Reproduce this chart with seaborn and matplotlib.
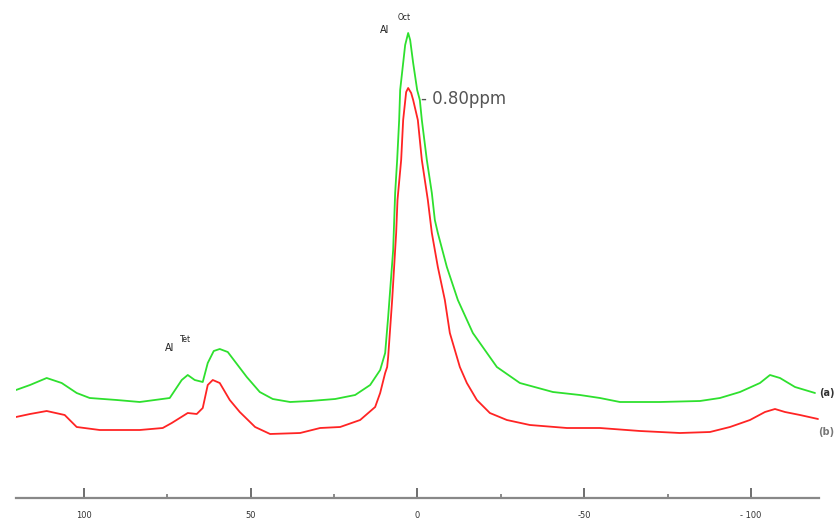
import matplotlib
matplotlib.use("Agg")
import matplotlib.pyplot as plt
import seaborn as sns
import pandas as pd

# chemical shift (ppm) and intensity (arbitrary units)
ppm_a = [120.4, 116.2, 111.2, 106.7, 102.2, 98.3, 90.2, 83.3, 74.3, 70.7, 68.9, 66.8,
         64.4, 62.9, 61.1, 59.3, 56.9, 51.2, 47.3, 43.4, 38.2, 32.2, 24.7, 18.7, 14.2,
         11.2, 9.7, 8.8, 7.3, 6.7, 6.1, 5.5, 5.2, 4.3, 3.7, 2.8, 2.2, 1.3, 0.1, -0.7,
         -1.3, -2.8, -4.3, -5.2, -6.1, -8.8, -12.1, -16.6, -23.8, -30.7, -40.6, -48.7,
         -54.7, -60.7, -72.7, -84.7, -90.7, -96.7, -102.7, -105.7, -108.7, -113.2, -119.2]
int_a = [108, 113, 120, 115, 105, 100, 98, 96, 100, 118, 123, 118,
         116, 135, 147, 149, 146, 121, 106, 99, 96, 97, 99, 103, 113,
         128, 145, 181, 248, 305, 338, 378, 408, 435, 453, 465, 458, 435, 408, 398,
         378, 338, 305, 278, 265, 231, 198, 165, 131, 115, 106, 103,
         100, 96, 96, 97, 100, 106, 115, 123, 120, 111, 105]

ppm_b = [120.4, 116.2, 111.2, 105.8, 102.2, 95.3, 83.3, 76.4, 73.7, 68.9, 66.2, 64.4,
         62.9, 61.4, 59.3, 56.3, 53.3, 48.7, 44.2, 35.2, 29.2, 23.2, 17.2, 12.7, 11.2,
         9.7, 9.1, 8.8, 7.6, 6.4, 6.0, 4.9, 4.3, 3.4, 2.8, 1.9, 1.3, -0.1, -1.3, -3.1,
         -4.3, -6.1, -8.2, -9.7, -12.7, -14.8, -17.8, -21.7, -26.8, -33.7, -44.8, -54.7,
         -66.7, -78.7, -87.7, -93.7, -99.7, -104.2, -107.2, -110.2, -114.7, -120.1]
int_b = [81, 84, 87, 83, 71, 68, 68, 70, 75, 85, 84, 90,
         113, 118, 115, 98, 86, 71, 64, 65, 70, 71, 78, 91, 105,
         125, 131, 141, 198, 265, 298, 338, 378, 406, 410, 405, 398, 378, 338, 298,
         265, 231, 198, 165, 131, 115, 98, 85, 78, 73, 70, 70,
         67, 65, 66, 71, 78, 86, 89, 86, 83, 79]

tick_values = [100, 50, 0, -50, -100]
tick_labels = ["100", "50", "0", "-50", "- 100"]
minor_values = [75, 25, -25, -75]

df = pd.concat([
    pd.DataFrame({"ppm": ppm_a, "intensity": int_a, "sample": "(a)"}),
    pd.DataFrame({"ppm": ppm_b, "intensity": int_b, "sample": "(b)"}),
])

sns.set_style("white")
fig = plt.figure(figsize=(8.36, 5.18), dpi=100)
ax = fig.add_axes([16 / 836, 20 / 518, 803 / 836, 498 / 518])

sns.lineplot(data=df, x="ppm", y="intensity", hue="sample",
             palette={"(a)": "#2ee02e", "(b)": "#ff2424"},
             estimator=None, sort=False, linewidth=1.3, legend=False, ax=ax)

ax.set_xlim(120.4, -120.4)
ax.set_ylim(0, 498)
ax.set_xlabel("")
ax.set_ylabel("")
ax.set_yticks([])
for s in ["left", "right", "top"]:
    ax.spines[s].set_visible(False)
ax.spines["bottom"].set_color("#888888")
ax.spines["bottom"].set_linewidth(1.6)

ax.set_xticks(tick_values)
ax.set_xticklabels(tick_labels, fontsize=6, color="#333333")
ax.set_xticks(minor_values, minor=True)
ax.tick_params(axis="x", which="major", direction="in", length=7, width=1.2,
               color="#555555", pad=9, bottom=True)
ax.tick_params(axis="x", which="minor", direction="in", length=3, width=1.2,
               color="#777777", bottom=True)

# annotations
ax.text(9.8, 468, "Al", fontsize=7, color="#222222", ha="center", va="center")
ax.text(4.0, 481, "Oct", fontsize=5.5, color="#222222", ha="center", va="center")
ax.text(74.3, 150, "Al", fontsize=7, color="#222222", ha="center", va="center")
ax.text(69.5, 158, "Tet", fontsize=5.5, color="#222222", ha="center", va="center")
ax.text(-1.0, 399, "- 0.80ppm", fontsize=12, color="#555555", ha="left", va="center")
fig.text(0.998, (518 - 393) / 518, "(a)", fontsize=7, fontweight="bold",
         color="#333333", ha="right", va="center")
fig.text(0.998, (518 - 432) / 518, "(b)", fontsize=7, fontweight="bold",
         color="#777777", ha="right", va="center")

fig.savefig("out.png", dpi=100)
